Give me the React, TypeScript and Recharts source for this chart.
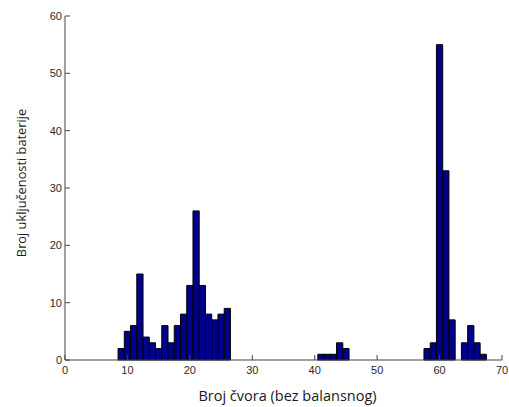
import React from 'react';
import { ComposedChart, Bar, XAxis, YAxis } from 'recharts';

const nodeNumbers = [9, 10, 11, 12, 13, 14, 15, 16, 17, 18, 19, 20, 21, 22, 23, 24, 25, 26, 41, 42, 43, 44, 45, 58, 59, 60, 61, 62, 64, 65, 66, 67];
const switchCounts = [2, 5, 6, 15, 4, 3, 2, 6, 3, 6, 8, 13, 26, 13, 8, 7, 8, 9, 1, 1, 1, 3, 2, 2, 3, 55, 33, 7, 3, 6, 3, 1];
const xTicks = [0, 10, 20, 30, 40, 50, 60, 70];
const yTicks = [0, 10, 20, 30, 40, 50, 60];
const xLabel = 'Broj čvora (bez balansnog)';
const yLabel = 'Broj uključenosti baterije';

const data = nodeNumbers.map((n, i) => ({ node: n, count: switchCounts[i] }));

const TICK_LEN = 5;
const tickFont = { fontFamily: '"Liberation Sans", Arial, sans-serif', fontSize: 11, fill: '#2a2a2a' };

const BottomTick = (props: any) => {
  const { x, y, payload } = props;
  return (
    <g>
      <line x1={x} y1={y} x2={x} y2={y - TICK_LEN} stroke="#444" strokeWidth={1} />
      <text x={x} y={y + 14} textAnchor="middle" {...tickFont}>{payload.value}</text>
    </g>
  );
};
const TopTick = (props: any) => {
  const { x, y } = props;
  return <line x1={x} y1={y} x2={x} y2={y + TICK_LEN} stroke="#444" strokeWidth={1} />;
};
const LeftTick = (props: any) => {
  const { x, y, payload } = props;
  return (
    <g>
      <line x1={x} y1={y} x2={x + TICK_LEN} y2={y} stroke="#444" strokeWidth={1} />
      <text x={x - 3} y={y + 4} textAnchor="end" {...tickFont}>{payload.value}</text>
    </g>
  );
};
const RightTick = (props: any) => {
  const { x, y } = props;
  return <line x1={x} y1={y} x2={x - TICK_LEN} y2={y} stroke="#444" strokeWidth={1} />;
};

export default function App() {
  return (
    <div style={{ position: 'absolute', left: 0, top: 0, width: 509, height: 407, background: '#fff' }}>
      <ComposedChart width={509} height={407} data={data} margin={{ top: 16, right: 7, bottom: 0, left: 0 }}>
        <XAxis xAxisId="bottom" dataKey="node" type="number" domain={[0, 70]} ticks={xTicks} interval={0}
          orientation="bottom" height={47} tickSize={0} tickMargin={0} tickLine={false}
          axisLine={{ stroke: '#444' }} tick={<BottomTick />} />
        <XAxis xAxisId="top" dataKey="node" type="number" domain={[0, 70]} ticks={xTicks} interval={0}
          orientation="top" height={0} tickSize={0} tickMargin={0} tickLine={false}
          axisLine={{ stroke: '#444' }} tick={<TopTick />} />
        <YAxis yAxisId="left" type="number" domain={[0, 60]} ticks={yTicks} interval={0}
          orientation="left" width={65} tickSize={0} tickMargin={0} tickLine={false}
          axisLine={{ stroke: '#444' }} tick={<LeftTick />} />
        <YAxis yAxisId="right" type="number" domain={[0, 60]} ticks={yTicks} interval={0}
          orientation="right" width={0} tickSize={0} tickMargin={0} tickLine={false}
          axisLine={{ stroke: '#444' }} tick={<RightTick />} />
        <Bar xAxisId="bottom" yAxisId="left" dataKey="count" fill="#00008f" stroke="#000" strokeWidth={1}
          barSize={6.24} isAnimationActive={false} />
        <text x={287.5} y={401} textAnchor="middle" fontFamily='"Open Sans", sans-serif' fontSize={14.5} fill="#1a1a1a">{xLabel}</text>
        <text x={0} y={0} transform="translate(26,183) rotate(-90)" textAnchor="middle" fontFamily='"Open Sans", sans-serif' fontSize={12.8} fill="#1a1a1a">{yLabel}</text>
      </ComposedChart>
    </div>
  );
}
